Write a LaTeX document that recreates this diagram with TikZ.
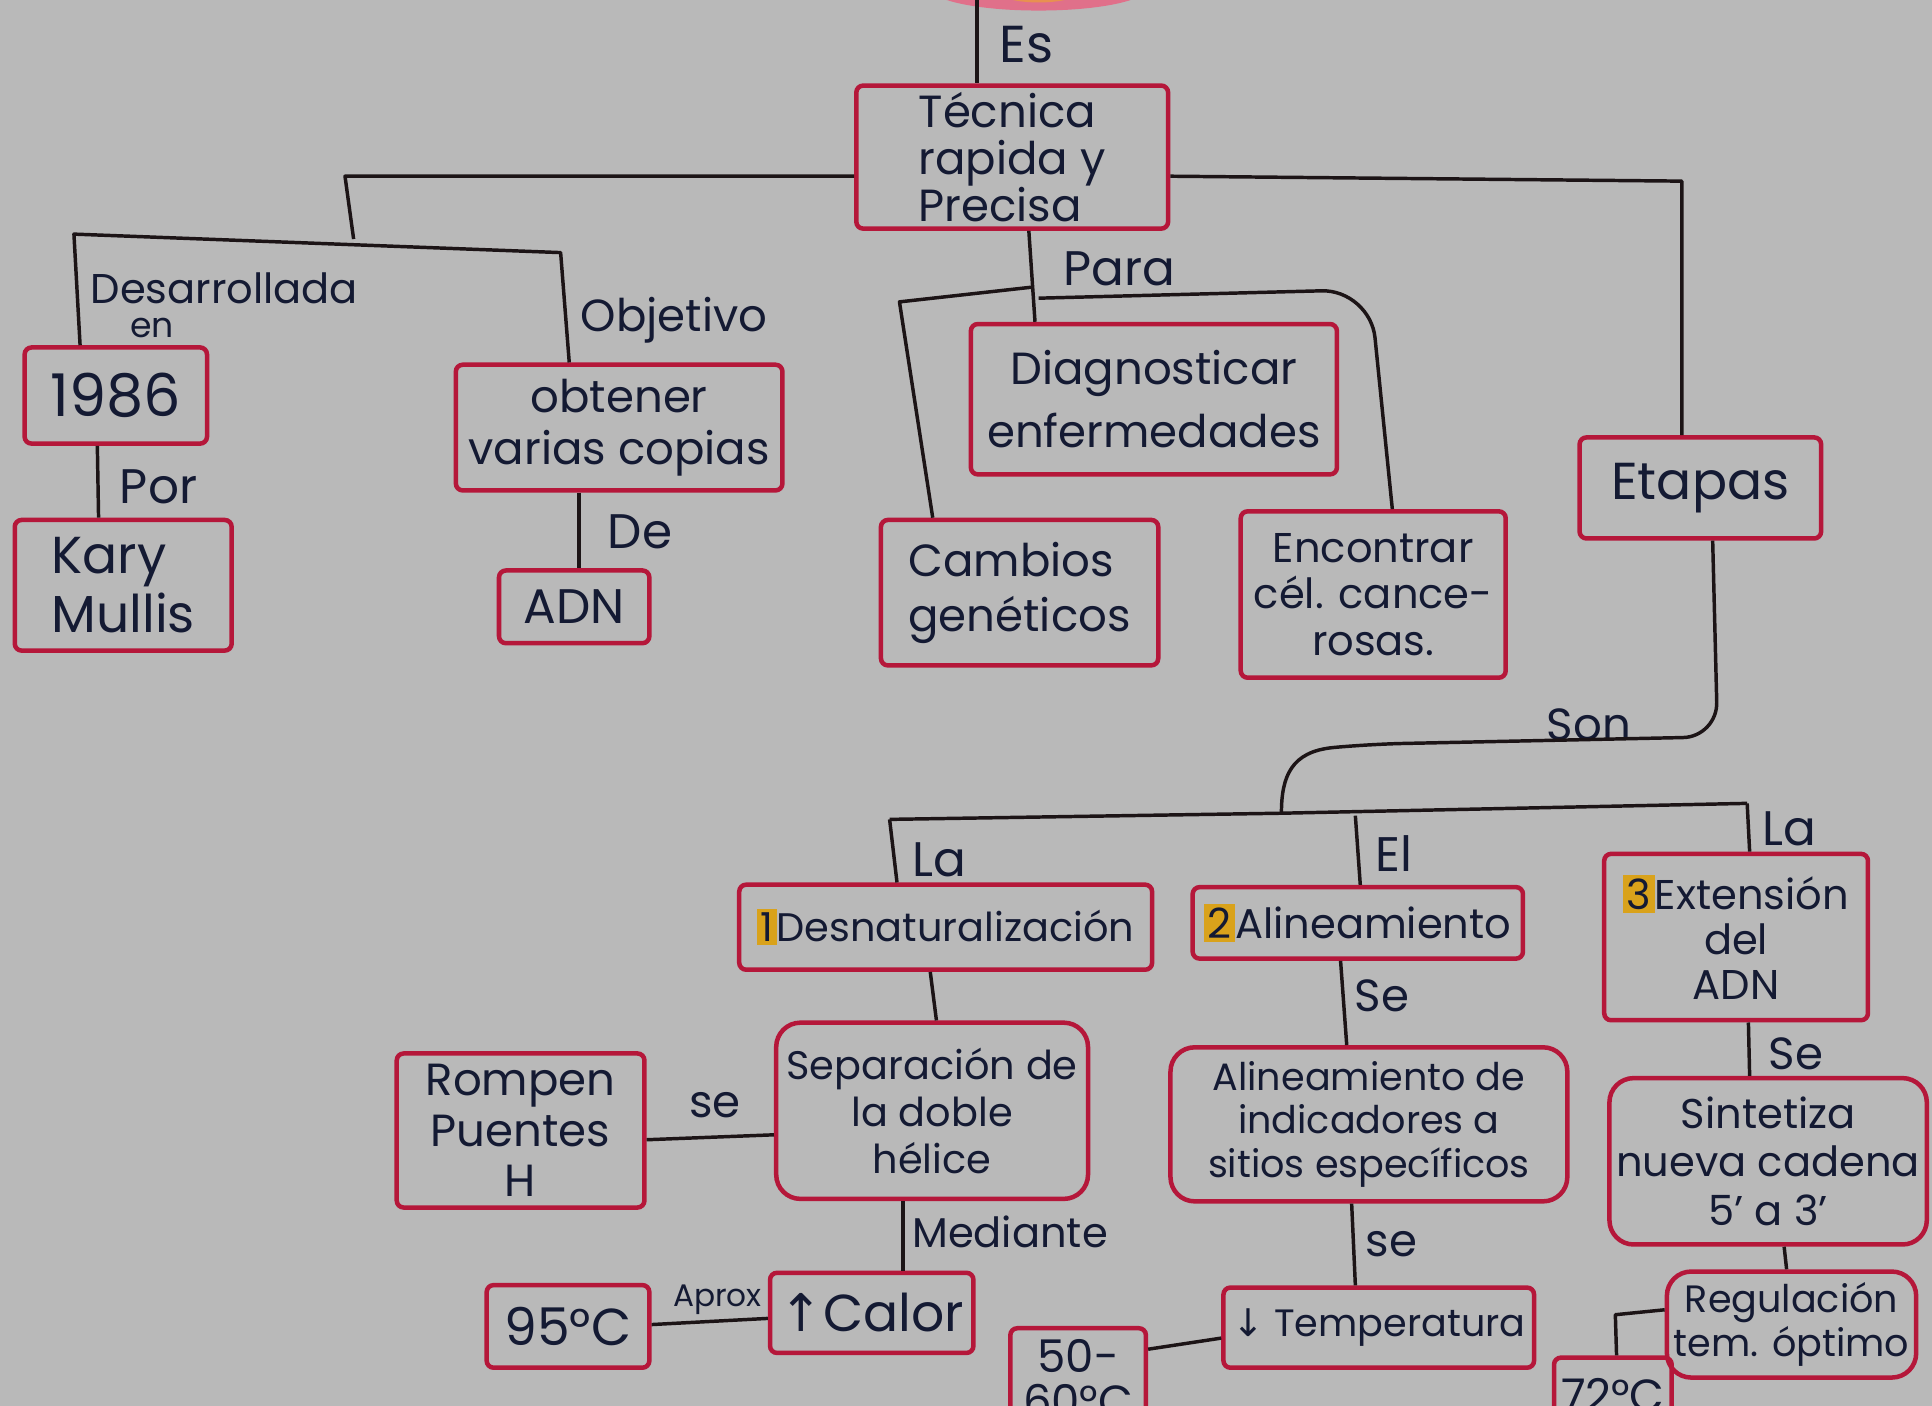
\documentclass[tikz,border=0pt]{standalone}
\usepackage{fontspec}
\setmainfont{Poppins}
\newfontfamily\symf{DejaVu Sans}
\usetikzlibrary{shapes.geometric}
\definecolor{bg}{HTML}{B9B9B9}
\definecolor{boxred}{HTML}{B5173A}
\definecolor{ink}{HTML}{141A33}
\definecolor{linec}{HTML}{1C1416}
\definecolor{hl}{HTML}{D9A21B}
\definecolor{blobpink}{HTML}{E0708A}
\definecolor{bloborange}{HTML}{E89050}
\newcommand\fsz[2]{\fontsize{#1}{#2}\selectfont}
\newcommand\hlnum[1]{{\setlength\fboxsep{1pt}\colorbox{hl}{#1}}}
\tikzset{
  wh/.style 2 args={minimum width=#1*0.125mm, minimum height=#2*0.125mm},
  box/.style={draw=boxred, line width=1.3pt, rounded corners=2pt, text=ink, inner sep=2pt, align=center},
  rbox/.style={box, rounded corners=7pt},
  lbl/.style={text=ink, anchor=west, inner sep=1pt},
  conn/.style={draw=linec, line width=1pt, line join=round},
}
\begin{document}
\begin{tikzpicture}[x=0.0125cm,y=-0.0125cm]
\fill[bg] (0,0) rectangle (1568,1141);
\useasboundingbox (0,0) rectangle (1568,1141);
\clip (0,0) rectangle (1568,1141);

% top (cut off) node
\node[ellipse, fill=blobpink, draw=blobpink, wh={175}{36}] (top) at (843,-10) {};
\fill[bloborange] (843,-8) ellipse [x radius=35, y radius=10];

% boxes
\node[box, wh={253}{115}, font=\fsz{13}{13.5}, align=left] (tec) at (821.5,127.5) {Técnica\\rapida y\\Precisa};
\node[box, wh={148}{78}, font=\fsz{17}{18}] (y1986) at (94,321) {1986};
\node[box, wh={176}{106}, font=\fsz{15}{17}, align=left] (kary) at (100,475) {Kary\\Mullis};
\node[box, wh={265}{102}, font=\fsz{13}{15}] (obt) at (502.5,347) {obtener\\varias copias};
\node[box, wh={122}{59}, font=\fsz{14}{15}] (adn) at (466,492.5) {ADN};
\node[box, wh={297}{122}, font=\fsz{13}{18}] (diag) at (936.5,324) {Diagnosticar\\enfermedades};
\node[box, wh={225}{118}, font=\fsz{13}{16}, align=left] (camb) at (827.5,481) {Cambios\\genéticos};
\node[box, wh={215}{135}, font=\fsz{12}{13.5}] (enc) at (1114.5,482.5) {Encontrar\\cél. cance-\\rosas.};
\node[box, wh={196}{82}, font=\fsz{15}{16}] (etap) at (1380,396) {Etapas};
\node[box, wh={335}{69}, font=\fsz{11.5}{13}] (des) at (767.5,752.5) {\hlnum{1}Desnaturalización};
\node[box, wh={268}{58}, font=\fsz{12}{13}] (ali) at (1102,749) {\hlnum{2}Alineamiento};
\node[box, wh={214}{135}, font=\fsz{12}{13}] (ext) at (1409,760.5) {\hlnum{3}Extensión\\del\\ADN};
\node[rbox, wh={253}{143}, font=\fsz{11.5}{13.5}] (sep) at (756.5,901.5) {Separación de\\la doble\\hélice};
\node[box, wh={201}{125}, font=\fsz{13}{14.5}] (rom) at (422.5,917.5) {Rompen\\Puentes\\H};
\node[rbox, wh={322}{125}, font=\fsz{11}{12.5}] (alid) at (1111,912.5) {Alineamiento de\\indicadores a\\sitios específicos};
\node[rbox, wh={250}{135}, font=\fsz{12}{14}] (sin) at (1435,942.5) {Sintetiza\\nueva cadena\\5' a 3'};
\node[box, wh={165}{65}, font=\fsz{15}{16}] (cal) at (707.5,1065.5) {{\symf↑}Calor};
\node[box, wh={132}{67}, font=\fsz{15}{16}] (t95) at (461,1076.5) {95°C};
\node[box, wh={252}{65}, font=\fsz{11}{12}] (temp) at (1119,1077.5) {{\symf↓} Temperatura};
\node[box, wh={110}{82}, font=\fsz{13}{13}] (t50) at (875,1119) {50-\\60°C};
\node[rbox, wh={198}{86}, font=\fsz{11}{12.5}] (reg) at (1454,1075) {Regulación\\tem. óptimo};
\node[box, wh={82}{60}, font=\fsz{13}{14}, anchor=north] (t72) at (1309,1100) {72°C};

% labels
\node[lbl, font=\fsz{15}{16}] (lEs) at (808,36) {Es};
\node[lbl, font=\fsz{14}{15}] (lPara) at (860,218) {Para};
\node[lbl, font=\fsz{12}{13}, inner sep=0pt] (lDes) at (73,234) {Desarrollada};
\node[lbl, font=\fsz{10}{11}, inner sep=0pt] (lEn) at (105,266) {en};
\node[lbl, font=\fsz{13}{14}] (lObj) at (468,260) {Objetivo};
\node[lbl, font=\fsz{14}{15}] (lPor) at (94,395) {Por};
\node[lbl, font=\fsz{14}{15}] (lDe) at (490,432) {De};
\node[lbl, font=\fsz{13}{14}] (lSon) at (1252,588) {Son};
\node[lbl, font=\fsz{14}{15}] (lLa1) at (737,698) {La};
\node[lbl, font=\fsz{14}{15}] (lEl) at (1113,693) {El};
\node[lbl, font=\fsz{14}{15}] (lLa2) at (1427,673) {La};
\node[lbl, font=\fsz{13}{14}] (lSe1) at (1096,808) {Se};
\node[lbl, font=\fsz{13}{14}] (lse2) at (556,897) {se};
\node[lbl, font=\fsz{12}{13}] (lMed) at (737,1000) {Mediante};
\node[lbl, font=\fsz{9}{10}] (lAp) at (543,1055) {Aprox};
\node[lbl, font=\fsz{13}{14}] (lse3) at (1105,1010) {se};
\node[lbl, font=\fsz{13}{14}] (lSe4) at (1432,855) {Se};

% junction coordinates
\coordinate (c0) at (793,0);
\coordinate (j1) at (280,143);
\coordinate (j2) at (287,194);
\coordinate (jL) at (60,190);
\coordinate (jR) at (455,205);
\coordinate (jE) at (1365,147);
\coordinate (jP) at (838,233);
\coordinate (jB) at (1040,660);

% connectors
\draw[conn] (c0) -- (c0 |- tec.north);
\draw[conn] (tec.west |- j1) -- (j1) -- (j2);
\draw[conn] (y1986.north -| 65,0) -- (jL) -- (jR) -- (obt.north -| 462,0);
\draw[conn] (y1986.south -| 79,0) -- (kary.north -| 80,0);
\draw[conn] (obt.south -| 470,0) -- (adn.north -| 470,0);
\draw[conn] (tec.east |- j1) -- (jE) -- (etap.north -| jE);
\draw[conn] (tec.south -| 835,0) -- (diag.north -| 840,0);
\draw[conn] (jP) -- (730,245) -- (camb.north -| 757,0);
\draw[conn, rounded corners=14pt] (843,242) -- (1112,235) -- (enc.north -| 1130,0);
\draw[conn, rounded corners=10pt] (etap.south -| 1390,0) -- (1394,598) -- (1110,604) .. controls (1048,610) and (1040,630) .. (jB);
\draw[conn] (722,665) -- (jB) -- (1418,652);
\draw[conn] (722,665) -- (des.north -| 728,0);
\draw[conn] (1100,662) -- (ali.north -| 1104,0);
\draw[conn] (1418,652) -- (ext.north -| 1420,0);
\draw[conn] (des.south -| 755,0) -- (sep.north -| 760,0);
\draw[conn] (sep.west |- 0,921) -- (rom.east |- 0,925);
\draw[conn] (sep.south -| 733,0) -- (cal.north -| 733,0);
\draw[conn] (cal.west |- 0,1070) -- (t95.east |- 0,1075);
\draw[conn] (ali.south -| 1088,0) -- (alid.north -| 1093,0);
\draw[conn] (alid.south -| 1097,0) -- (temp.north -| 1100,0);
\draw[conn] (temp.west |- 0,1086) -- (t50.east |- 0,1095);
\draw[conn] (ext.south -| 1419,0) -- (sin.north -| 1420,0);
\draw[conn] (sin.south -| 1448,0) -- (reg.north -| 1450,0);
\draw[conn] (reg.west |- 0,1063) -- (1311,1067) -- (t72.north -| 1312,0);
\end{tikzpicture}
\end{document}
